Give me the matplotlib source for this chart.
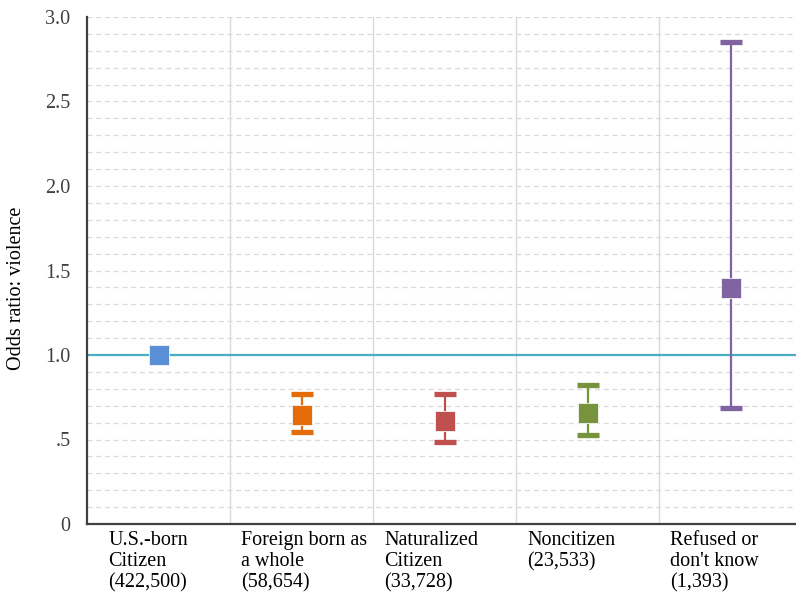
import matplotlib
matplotlib.use("Agg")
import matplotlib.pyplot as plt
import numpy as np
from matplotlib.transforms import blended_transform_factory

plt.rcParams["font.family"] = ["Liberation Serif", "DejaVu Serif"]

categories = [
    "U.S.-born\nCitizen\n(422,500)",
    "Foreign born as\na whole\n(58,654)",
    "Naturalized\nCitizen\n(33,728)",
    "Noncitizen\n(23,533)",
    "Refused or\ndon't know\n(1,393)",
]
odds = [1.0, 0.645, 0.611, 0.655, 1.398]
ci_low = [1.0, 0.546, 0.487, 0.528, 0.685]
ci_high = [1.0, 0.767, 0.767, 0.820, 2.850]
colors = ["#5A8FD6", "#E46C0A", "#C0504D", "#77933C", "#8064A2"]
ytick_vals = [0, 0.5, 1.0, 1.5, 2.0, 2.5, 3.0]
ytick_labels = ["0", ".5", "1.0", "1.5", "2.0", "2.5", "3.0"]

fig = plt.figure(figsize=(7.96, 5.94), dpi=100)
ax = fig.add_axes([87 / 796, 70 / 594, 715 / 796, 507 / 594])

x = np.arange(len(categories))

# dashed minor grid every 0.1
for yv in np.arange(0.1, 3.01, 0.1):
    ax.axhline(yv, color="#D9D9D9", lw=0.9, ls=(0, (4, 3)), zorder=0)
# category dividers
for xv in x[:-1] + 0.5:
    ax.axvline(xv, color="#D9D9D9", lw=1.0, zorder=0)

ax.axhline(1.0, color="#4BACC6", lw=1.6, zorder=1)

for i in x:
    lo, hi, mid = ci_low[i], ci_high[i], odds[i]
    if hi > lo:
        ax.errorbar(i, mid, yerr=[[mid - lo], [hi - mid]], fmt="none",
                    ecolor=colors[i], elinewidth=1.6, capsize=8, capthick=3.8,
                    zorder=2)
    ax.plot(i, mid, marker="s", ms=14.5, color=colors[i],
            mec="#F4F4F4", mew=0.6, ls="none", zorder=3)

ax.set_xlim(-0.5, len(categories) - 0.5)
ax.set_ylim(0, 3.0)
ax.set_yticks(ytick_vals)
ax.set_yticklabels(ytick_labels, fontsize=14.5, color="#404040")
ax.tick_params(axis="y", length=0, pad=12)
ax.set_xticks([])

for side in ["top", "right"]:
    ax.spines[side].set_visible(False)
for side in ["left", "bottom"]:
    ax.spines[side].set_color("#404040")
    ax.spines[side].set_linewidth(1.6)

ax.set_ylabel("Odds ratio: violence", fontsize=14.5)
ax.yaxis.set_label_coords(-0.085, 0.465)

trans = blended_transform_factory(ax.transData, ax.transAxes)
for i, lab in enumerate(categories):
    xo = -0.35 if i == 0 else -0.42
    ax.text(i + xo, -0.014, lab, transform=trans, ha="left", va="top",
            fontsize=14.5, color="#000000", linespacing=1.15)

fig.savefig("out.png", dpi=100)
